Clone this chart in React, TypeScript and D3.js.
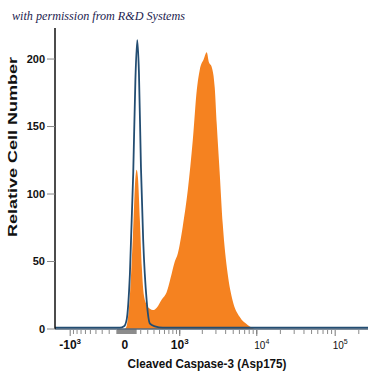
import React from 'react'
import * as d3 from 'd3'

// fluorescence values (x) and cell counts (y)
const orangeX = [0, 24, 61, 99, 130, 146, 163, 189, 216, 244, 284, 334, 382, 452, 547, 645, 769, 853, 940, 1100, 1287, 1500, 1693, 1853, 2090, 2282, 2423, 2651, 2895, 3072, 3359, 3669, 4245, 4920, 6040, 7650, 9390]
const orangeY = [0, 3, 25, 70, 112, 118, 112, 80, 45, 25, 18, 15, 14, 16, 22, 27, 41, 50, 56, 76, 103, 140, 177, 192, 200, 205, 198, 194, 179, 152, 115, 78, 41, 21, 9, 3, 0]

const blueX = [-1600, -61, -12, 21, 61, 102, 130, 154, 176, 203, 234, 284, 334, 416, 567, 262144]
const blueY = [1, 1, 2, 7, 41, 115, 185, 214, 190, 120, 66, 21, 4, 2, 1, 1]

const yTicks = [0, 50, 100, 150, 200]
const xMajor = [-1000, 0, 1000, 10000, 100000]
const xMajorExp = ['3', '', '3', '4', '5']
const xMajorBase = ['-10', '0', '10', '10', '10']
const xMajorBold = [true, true, true, false, false]

const minorTicks: number[] = []
for (let i = 1; i < 10; i++) minorTicks.push(-i * 100, i * 100, i * 1000, i * 10000)
minorTicks.push(200000)

const W = 375
const H = 375
const left = 55, right = 368, top = 28, bottom = 329
const W_BIEX = 417
const T = (v: number) => Math.asinh(v / W_BIEX) / Math.LN10
const xLin = d3.scaleLinear().domain([T(-1600), T(262144)]).range([left, right])
const x = (v: number) => xLin(T(v))
const y = d3.scaleLinear().domain([0, 223]).range([bottom, top])

const font = 'Liberation Sans, Arial, sans-serif'

export default function App() {
  const orange = orangeX.map((v, i) => [v, orangeY[i]] as [number, number])
  const blue = blueX.map((v, i) => [v, blueY[i]] as [number, number])

  const area = d3.area<[number, number]>()
    .x(d => x(d[0]))
    .y0(y(0))
    .y1(d => y(d[1]))
    .curve(d3.curveMonotoneX)
  const line = d3.line<[number, number]>()
    .x(d => x(d[0]))
    .y(d => y(d[1]))
    .curve(d3.curveMonotoneX)

  return (
    <svg width={W} height={H} style={{ position: 'absolute', left: 0, top: 0, background: '#fff' }}>
      <text x={12} y={20} fontFamily="Liberation Serif, serif" fontStyle="italic" fontSize={12}
        fill="#1c2350" textLength={173} lengthAdjust="spacingAndGlyphs">with permission from R&amp;D Systems</text>

      {/* gray blob under zero */}
      <rect x={x(-98)} y={bottom} width={x(146) - x(-98)} height={5} fill="#8c8c8c" />

      <path d={area(orange) || ''} fill="#f58220" />

      {/* x axis */}
      <line x1={left} x2={right} y1={bottom} y2={bottom} stroke="#55677a" strokeWidth={1.5} />
      {minorTicks.map(t => (
        <line key={t} x1={x(t)} x2={x(t)} y1={bottom + 1} y2={bottom + 5} stroke="#8a8a8a" />
      ))}
      {xMajor.filter(t => t !== 0).map(t => (
        <line key={'M' + t} x1={x(t)} x2={x(t)} y1={bottom + 1} y2={bottom + 7} stroke="#777" />
      ))}
      {xMajor.map((t, i) => (
        <text key={'L' + t} x={x(t) + (i >= 3 ? 5 : 0)} y={349} textAnchor="middle" fontFamily={font}
          fontSize={xMajorBold[i] ? 12 : 10} fontWeight={xMajorBold[i] ? 'bold' : 'normal'} fill="#111">
          {xMajorBase[i]}
          {xMajorExp[i] && <tspan fontSize={xMajorBold[i] ? 8 : 7} dy={-5}>{xMajorExp[i]}</tspan>}
        </text>
      ))}

      <path d={line(blue) || ''} fill="none" stroke="#234d72" strokeWidth={1.8} />

      {/* y axis */}
      <line x1={left} x2={left} y1={top} y2={bottom} stroke="#111" strokeWidth={1.5} />
      {yTicks.map(t => (
        <g key={t}>
          <line x1={left - 8} x2={left} y1={y(t)} y2={y(t)} stroke="#888" />
          <text x={left - 10} y={y(t)} dy="0.35em" textAnchor="end" fontFamily={font}
            fontSize={11} fontWeight="bold" fill="#111">{t}</text>
        </g>
      ))}

      <text x={207} y={368} textAnchor="middle" fontFamily={font} fontSize={13} fontWeight="bold"
        fill="#111" textLength={159} lengthAdjust="spacingAndGlyphs">Cleaved Caspase-3 (Asp175)</text>
      <text transform="translate(17,147) rotate(-90)" textAnchor="middle" fontFamily={font} fontSize={13}
        fontWeight="bold" fill="#111" textLength={180} lengthAdjust="spacingAndGlyphs">Relative Cell Number</text>
    </svg>
  )
}
